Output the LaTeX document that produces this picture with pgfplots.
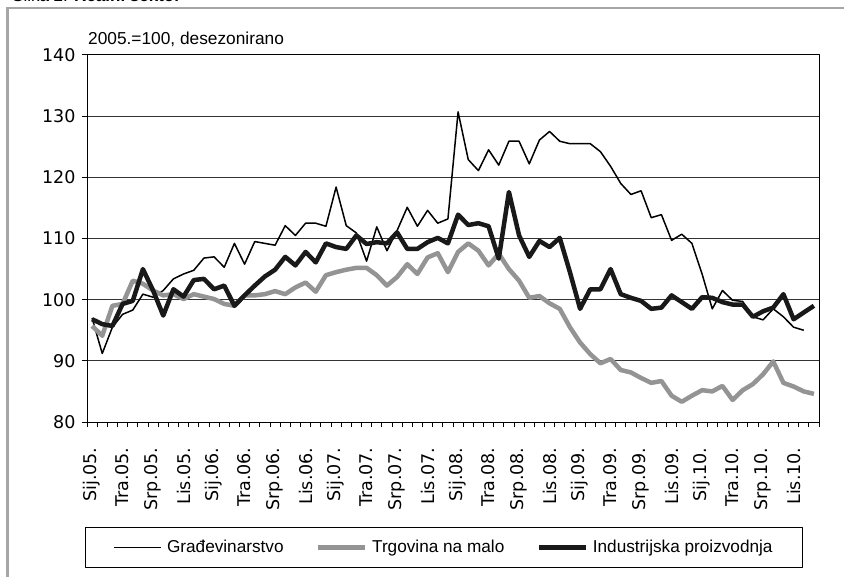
\documentclass[border=0pt]{standalone}
\usepackage{fontspec}
\setmainfont{Liberation Sans}
\newfontfamily\tickfont{DejaVu Sans}
\usepackage{pgfplots}
\pgfplotsset{compat=1.18}
\begin{document}
\begin{tikzpicture}
\useasboundingbox (0bp,0bp) rectangle (844bp,577bp);
\fill[white] (0bp,0bp) rectangle (844bp,577bp);
\draw[black!35, line width=2.5bp] (7.25bp,0bp) -- (7.25bp,569bp) -- (844bp,569bp);
\node[anchor=base west, font=\fontsize{17bp}{20bp}\selectfont, inner sep=0] at (12bp,575bp) {Slika 2. \textbf{Realni sektor}};
\node[anchor=base west, font=\fontsize{17.3bp}{20bp}\selectfont, inner sep=0] at (88bp,532bp) {2005.=100, desezonirano};
\begin{axis}[
  at={(87bp,155bp)}, anchor=south west, scale only axis,
  width=732bp, height=367bp,
  xmin=-0.5, xmax=71.5, ymin=80, ymax=140,
  ytick={80,90,...,140},
  xtick={0,3,...,69},
  xticklabels={Sij.05.,Tra.05.,Srp.05.,Lis.05.,Sij.06.,Tra.06.,Srp.06.,Lis.06.,Sij.07.,Tra.07.,Srp.07.,Lis.07.,Sij.08.,Tra.08.,Srp.08.,Lis.08.,Sij.09.,Tra.09.,Srp.09.,Lis.09.,Sij.10.,Tra.10.,Srp.10.,Lis.10.},
  minor xtick={-0.5,0.5,...,71.5},
  major x tick style={draw=none},
  xtick pos=bottom, ytick pos=left,
  tick align=outside,
  major tick length=5bp, minor tick length=5bp,
  tick style={black, line width=1bp},
  ymajorgrids, grid style={black!80, line width=1bp},
  axis line style={black, line width=1bp},
  ticklabel style={font=\tickfont\fontsize{17.5bp}{19bp}\selectfont},
  /pgf/number format/assume math mode=true,
  x tick label style={rotate=90, anchor=east},
  xticklabel shift=17bp,
  yticklabel shift=3bp,
  legend columns=3,
  legend cell align=left,
  legend image code/.code={\draw[#1] (0bp,0bp) -- (47bp,0bp);},
  legend style={at={(-0.0027,-0.2861)}, anchor=north west, draw=black, line width=1bp,
    font=\fontsize{17.2bp}{20bp}\selectfont, inner xsep=28bp, inner ysep=11bp,
    /tikz/every even column/.append style={column sep=30bp},
    /tikz/every odd column/.append style={column sep=3bp}},
  line join=round,
]
\addplot[black, line width=1.5bp] coordinates {
(0,97.0)(1,91.2)(2,95.5)(3,97.6)(4,98.3)(5,100.9)(6,100.4)(7,101.5)(8,103.4)(9,104.2)
(10,104.8)(11,106.8)(12,107.0)(13,105.3)(14,109.2)(15,105.8)(16,109.5)(17,109.2)(18,108.9)(19,112.1)
(20,110.5)(21,112.5)(22,112.5)(23,112.0)(24,118.4)(25,112.1)(26,110.9)(27,106.3)(28,111.9)(29,108.0)
(30,111.3)(31,115.1)(32,112.0)(33,114.6)(34,112.5)(35,113.2)(36,130.7)(37,122.9)(38,121.1)(39,124.5)
(40,122.0)(41,125.9)(42,125.9)(43,122.2)(44,126.1)(45,127.5)(46,125.9)(47,125.5)(48,125.5)(49,125.5)
(50,124.2)(51,121.8)(52,119.0)(53,117.2)(54,117.8)(55,113.4)(56,113.9)(57,109.7)(58,110.7)(59,109.2)
(60,104.2)(61,98.5)(62,101.5)(63,99.9)(64,99.7)(65,97.2)(66,96.7)(67,98.5)(68,97.2)(69,95.5)
(70,95.0)};
\addlegendentry{Građevinarstvo}
\addplot[black!42, line width=4.5bp] coordinates {
(0,95.7)(1,94.1)(2,99.0)(3,99.3)(4,103.1)(5,102.6)(6,101.5)(7,100.7)(8,100.9)(9,100.1)
(10,100.9)(11,100.5)(12,100.1)(13,99.3)(14,99.0)(15,100.7)(16,100.7)(17,100.9)(18,101.4)(19,100.9)
(20,102.0)(21,102.8)(22,101.3)(23,104.0)(24,104.5)(25,104.9)(26,105.2)(27,105.2)(28,104.0)(29,102.3)
(30,103.7)(31,105.8)(32,104.2)(33,106.9)(34,107.6)(35,104.5)(36,107.8)(37,109.2)(38,108.0)(39,105.6)
(40,107.5)(41,105.0)(42,103.1)(43,100.3)(44,100.6)(45,99.4)(46,98.5)(47,95.5)(48,93.0)(49,91.1)
(50,89.6)(51,90.3)(52,88.5)(53,88.1)(54,87.2)(55,86.4)(56,86.7)(57,84.3)(58,83.3)(59,84.3)
(60,85.2)(61,85.0)(62,85.9)(63,83.6)(64,85.2)(65,86.2)(66,87.8)(67,89.9)(68,86.4)(69,85.8)
(70,85.0)(71,84.6)};
\addlegendentry{Trgovina na malo}
\addplot[black!90, line width=4.5bp] coordinates {
(0,96.8)(1,96.0)(2,95.7)(3,99.3)(4,99.8)(5,105.0)(6,101.5)(7,97.4)(8,101.7)(9,100.5)
(10,103.2)(11,103.4)(12,101.7)(13,102.3)(14,99.0)(15,100.7)(16,102.3)(17,103.8)(18,104.9)(19,107.0)
(20,105.6)(21,107.8)(22,106.1)(23,109.2)(24,108.6)(25,108.3)(26,110.5)(27,109.1)(28,109.4)(29,109.2)
(30,111.0)(31,108.3)(32,108.3)(33,109.4)(34,110.1)(35,109.2)(36,113.9)(37,112.2)(38,112.5)(39,112.0)
(40,106.7)(41,117.6)(42,110.5)(43,107.0)(44,109.6)(45,108.6)(46,110.1)(47,104.5)(48,98.5)(49,101.7)
(50,101.7)(51,105.0)(52,100.9)(53,100.3)(54,99.8)(55,98.5)(56,98.7)(57,100.7)(58,99.6)(59,98.5)
(60,100.4)(61,100.3)(62,99.6)(63,99.2)(64,99.2)(65,97.2)(66,98.1)(67,98.7)(68,100.9)(69,96.8)
(70,97.9)(71,99.0)};
\addlegendentry{Industrijska proizvodnja}
\end{axis}
\end{tikzpicture}
\end{document}
